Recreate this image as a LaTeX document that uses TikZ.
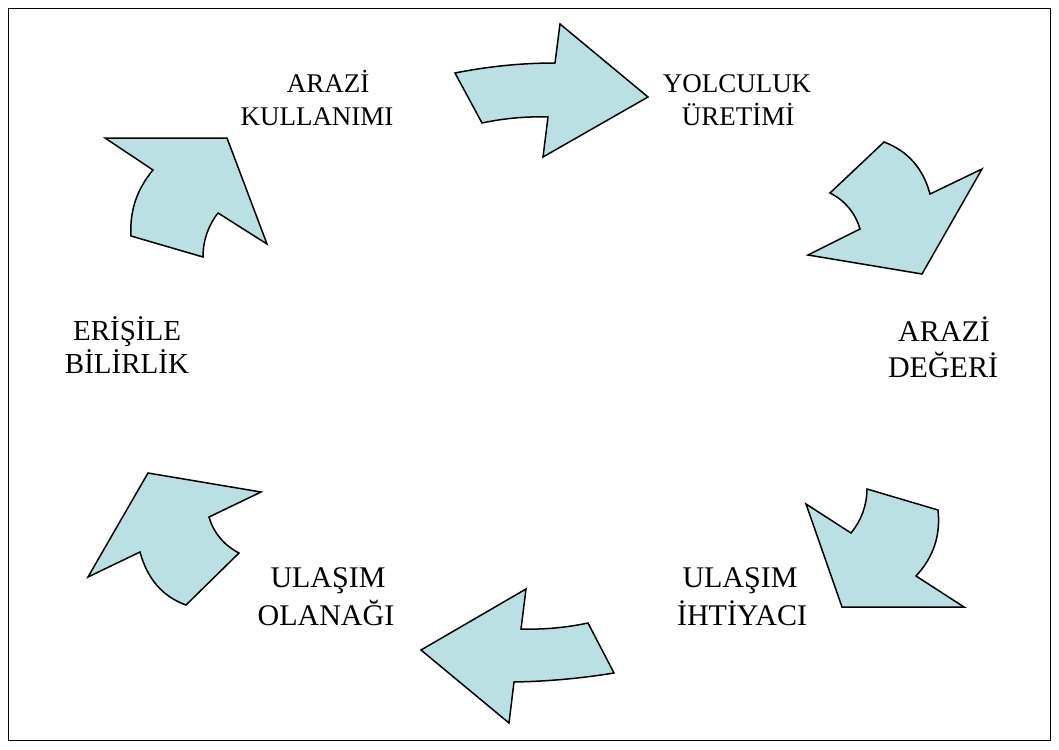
\documentclass[tikz,border=0pt]{standalone}
\usepackage{fontspec}
\setmainfont{Liberation Serif}
\definecolor{arrfill}{RGB}{187,224,227}
\tikzset{
  cyc/.style={draw=black, line width=1.5pt, fill=arrfill, line join=miter},
  frame/.style={draw=black, line width=1pt},
  lbla/.style={anchor=base, inner sep=0pt, font=\fontsize{27}{32}\selectfont},
  lblb/.style={anchor=base, inner sep=0pt, font=\fontsize{30}{36}\selectfont},
  lblc/.style={anchor=base, inner sep=0pt, font=\fontsize{29}{33}\selectfont}
}
\begin{document}
\begin{tikzpicture}[x=1pt,y=-1pt]
\useasboundingbox (0,0) rectangle (1059,749);
\draw[frame] (8.5,8.5) rectangle (1050.5,740.5);

% arrow 1 (top)
\draw[cyc] (455,73) .. controls (488.3,66.4) and (521.7,63) .. (555,63) -- (560,24) -- (648,97) -- (543,157) -- (548,117) .. controls (526,116.3) and (504,118.3) .. (482,123) -- cycle;
% arrow 2 (top right)
\draw[cyc] (884,142) .. controls (907.7,150.9) and (923.1,168.3) .. (930,194) -- (982,169) -- (922,274) -- (808,255) -- (860,229) .. controls (855.1,212.7) and (845.1,200.7) .. (830,193) -- cycle;
% arrow 3 (bottom right)
\draw[cyc] (867,489) -- (938,510) .. controls (940.8,535.3) and (933.4,557.3) .. (916,576) -- (964,607) -- (842,607) -- (806,504) -- (851,533) .. controls (861.4,520.2) and (866.8,505.6) .. (867,489) -- cycle;
% arrow 4 (bottom)
\draw[cyc] (526,589) -- (521,629) .. controls (543.3,629.7) and (565.7,627.7) .. (588,623) -- (614,673) .. controls (580.7,678.4) and (547.3,681.4) .. (514,682) -- (509,723) -- (421,650) -- cycle;
% arrow 5 (bottom left)
\draw[cyc] (148,473) -- (261,492) -- (209,517) .. controls (213.7,533) and (223.7,545) .. (239,553) -- (186,605) .. controls (162.7,596.6) and (147.3,579) .. (140,552) -- (88,577) -- cycle;
% arrow 6 (top left)
\draw[cyc] (105,138) -- (227,138) -- (267,244) -- (218,213) .. controls (208,226) and (203,240.6) .. (203,257) -- (131,236) .. controls (129.5,211.1) and (136.9,189.1) .. (153,170) -- cycle;

% labels
\node[lbla] (ak1) at (328,93) {ARAZİ};
\node[lbla] (ak2) at (317,125) {KULLANIMI};
\node[lbla] (yu1) at (737,93) {YOLCULUK};
\node[lbla] (yu2) at (738,125) {ÜRETİMİ};
\node[lblb] (ad1) at (944,341) {ARAZİ};
\node[lblb] (ad2) at (943,377) {DEĞERİ};
\node[lblb] (ui1) at (740,587) {ULAŞIM};
\node[lblb] (ui2) at (742,625) {İHTİYACI};
\node[lblb] (uo1) at (328,587) {ULAŞIM};
\node[lblb] (uo2) at (326,625) {OLANAĞI};
\node[lblc] (eb1) at (127,340) {ERİŞİLE};
\node[lblc] (eb2) at (127,373) {BİLİRLİK};
\end{tikzpicture}
\end{document}
